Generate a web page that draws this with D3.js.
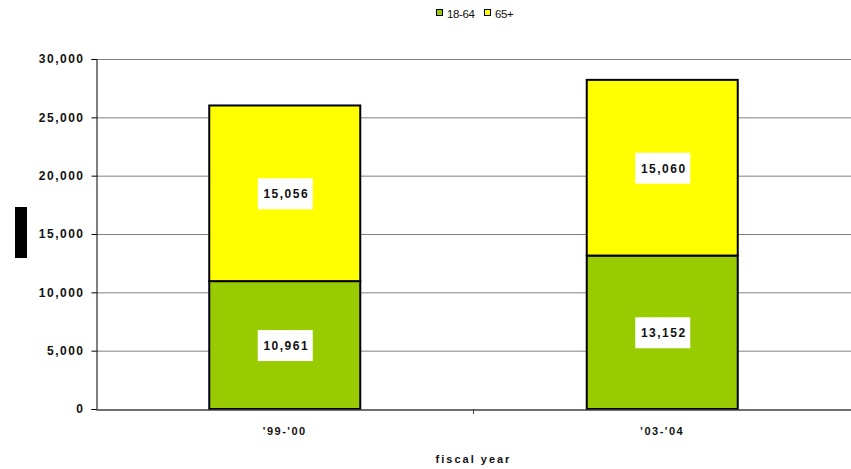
<!DOCTYPE html>
<html>
<head>
<meta charset="utf-8">
<script src="https://cdn.jsdelivr.net/npm/d3@7"></script>
<style>
  body { margin: 0; background: #fff; }
  svg { display: block; font-family: "Liberation Sans", Arial, sans-serif; }
</style>
</head>
<body>
<div id="chart"></div>
<script>
// Chart data
var years = ["'99-'00", "'03-'04"];
var ages = ["18-64", "65+"];
var adults = [10961, 13152];
var seniors = [15056, 15060];
var yTicks = [0, 5000, 10000, 15000, 20000, 25000, 30000];

var colors = { "18-64": "#99cc00", "65+": "#ffff00" };

var width = 851, height = 469;
var plot = { left: 96, right: 851, top: 59, bottom: 409 };

var rows = years.map(function (d, i) {
  return { year: d, "18-64": adults[i], "65+": seniors[i] };
});

var svg = d3.select("#chart")
  .append("svg")
  .attr("width", width)
  .attr("height", height);

// Scales
var x = d3.scaleBand()
  .domain(years)
  .range([plot.left, plot.right])
  .paddingInner(0.6)
  .paddingOuter(0.3);

var y = d3.scaleLinear()
  .domain([0, 30000])
  .range([plot.bottom, plot.top]);

// Gridlines
svg.append("g")
  .selectAll("line")
  .data(yTicks.slice(1))
  .enter()
  .append("line")
  .attr("x1", plot.left)
  .attr("x2", plot.right)
  .attr("y1", function (d) { return y(d) + 0.5; })
  .attr("y2", function (d) { return y(d) + 0.5; })
  .attr("stroke", "#808080")
  .attr("stroke-width", 1);

// Stacked bars
var series = d3.stack().keys(ages)(rows);

var groups = svg.append("g")
  .selectAll("g")
  .data(series)
  .enter()
  .append("g")
  .attr("fill", function (d) { return colors[d.key]; });

groups.selectAll("rect")
  .data(function (d) { return d; })
  .enter()
  .append("rect")
  .attr("x", function (d) { return x(d.data.year); })
  .attr("y", function (d) { return y(d[1]); })
  .attr("width", x.bandwidth())
  .attr("height", function (d) { return y(d[0]) - y(d[1]); })
  .attr("stroke", "#000")
  .attr("stroke-width", 2);

// Value labels in white boxes
series.forEach(function (s) {
  s.forEach(function (d) {
    var cx = x(d.data.year) + x.bandwidth() / 2;
    var cy = (y(d[0]) + y(d[1])) / 2;
    svg.append("rect")
      .attr("x", cx - 27)
      .attr("y", cy - 15)
      .attr("width", 55)
      .attr("height", 31)
      .attr("fill", "#fff");
    svg.append("text")
      .attr("x", cx + 1.5)
      .attr("y", cy + 5)
      .attr("text-anchor", "middle")
      .style("font-size", "12px")
      .style("font-weight", "bold")
      .style("letter-spacing", "1.5px")
      .attr("fill", "#111")
      .text(d3.format(",")(d.data[s.key]));
  });
});

// Y axis
var yAxis = svg.append("g")
  .attr("transform", "translate(" + (plot.left + 0.5) + ",0)")
  .call(d3.axisLeft(y)
    .tickValues(yTicks)
    .tickSize(5)
    .tickPadding(7)
    .tickFormat(d3.format(",")));

yAxis.select(".domain").attr("stroke", "#000");
yAxis.selectAll(".tick line").attr("stroke", "#000");
yAxis.selectAll("text")
  .style("font-size", "12px")
  .style("font-weight", "bold")
  .style("letter-spacing", "1.5px")
  .style("font-family", "'Liberation Sans', Arial, sans-serif")
  .attr("fill", "#111");

// X axis
var xAxis = svg.append("g")
  .attr("transform", "translate(0," + (plot.bottom + 0.5) + ")")
  .call(d3.axisBottom(x).tickSize(0).tickPadding(18));

xAxis.select(".domain").attr("stroke", "#404040").attr("stroke-width", 1.5);
xAxis.selectAll("text")
  .style("font-size", "11px")
  .style("font-weight", "bold")
  .style("letter-spacing", "1.5px")
  .style("font-family", "'Liberation Sans', Arial, sans-serif")
  .attr("fill", "#111");

// Tick between categories
svg.append("line")
  .attr("x1", (plot.left + plot.right) / 2)
  .attr("x2", (plot.left + plot.right) / 2)
  .attr("y1", plot.bottom)
  .attr("y2", plot.bottom + 5)
  .attr("stroke", "#404040");

// X axis title
svg.append("text")
  .attr("x", (plot.left + plot.right) / 2)
  .attr("y", 463)
  .attr("text-anchor", "middle")
  .style("font-size", "11px")
  .style("font-weight", "bold")
  .style("letter-spacing", "2px")
  .attr("fill", "#111")
  .text("fiscal year");

// Y axis title block
svg.append("rect")
  .attr("x", 15)
  .attr("y", 207)
  .attr("width", 12)
  .attr("height", 51)
  .attr("fill", "#000");

// Legend
var legendX = [436, 484];
var legend = svg.append("g")
  .selectAll("g")
  .data(ages)
  .enter()
  .append("g")
  .attr("transform", function (d, i) { return "translate(" + legendX[i] + ",9)"; });

legend.append("rect")
  .attr("x", 0.5)
  .attr("y", 0.5)
  .attr("width", 6)
  .attr("height", 6)
  .attr("fill", function (d) { return colors[d]; })
  .attr("stroke", "#000");

legend.append("text")
  .attr("x", 11)
  .attr("y", 8.5)
  .style("font-size", "11.5px")
  .style("letter-spacing", "-0.4px")
  .attr("fill", "#111")
  .text(function (d) { return d; });
</script>
</body>
</html>
